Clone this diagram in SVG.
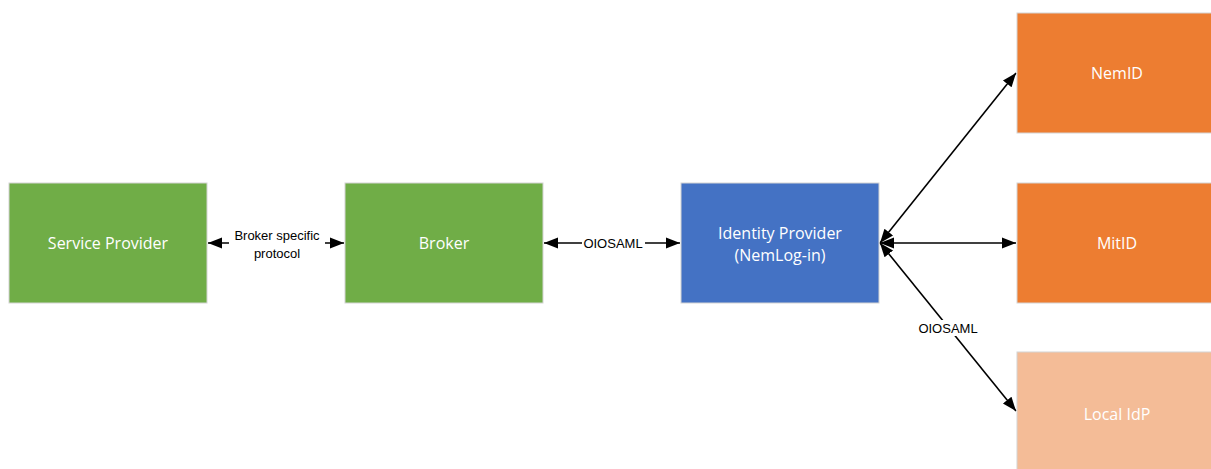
<svg xmlns="http://www.w3.org/2000/svg" width="1211" height="469" viewBox="0 0 1211 469">
<style>
.box{stroke:#d4d4d4;stroke-width:1}
.green{fill:#70ad47}
.blue{fill:#4472c4}
.orange{fill:#ed7d31}
.light{fill:#f4bc97}
.lbl{font-family:"Open Sans","Liberation Sans",sans-serif;font-size:16px;fill:#ffffff;text-anchor:middle;dominant-baseline:central}
.conn{stroke:#000;stroke-width:1.6;fill:none;marker-start:url(#ah);marker-end:url(#ah)}
.clbl{font-family:"Liberation Sans",sans-serif;font-size:13px;fill:#000;text-anchor:middle;dominant-baseline:central}
</style>
<defs>
<marker id="ah" markerUnits="userSpaceOnUse" markerWidth="15" markerHeight="14" refX="14" refY="7" orient="auto-start-reverse">
<path d="M0,1.5 L14,7 L0,12.5 z" fill="#000"/>
</marker>
</defs>
<rect width="1211" height="469" fill="#ffffff"/>
<g id="connectors">
<line class="conn" x1="208" y1="243" x2="344" y2="243"/>
<rect x="229" y="226" width="96" height="36" fill="#fff"/>
<text class="clbl" x="277" y="235">Broker specific</text>
<text class="clbl" x="277" y="253">protocol</text>
<line class="conn" x1="544" y1="243" x2="680" y2="243"/>
<rect x="582" y="235" width="63" height="16" fill="#fff"/>
<text class="clbl" x="613" y="243">OIOSAML</text>
<line class="conn" x1="880" y1="243" x2="1016" y2="73"/>
<line class="conn" x1="880" y1="243" x2="1016" y2="243"/>
<line class="conn" x1="880" y1="243" x2="1016" y2="411"/>
<rect x="917" y="320" width="63" height="16" fill="#fff"/>
<text class="clbl" x="948" y="328">OIOSAML</text>
</g>
<g id="service-provider">
<rect class="box green" x="9" y="183" width="198" height="120"/>
<text class="lbl" x="108" y="243">Service Provider</text>
</g>
<g id="broker">
<rect class="box green" x="345" y="183" width="198" height="120"/>
<text class="lbl" x="444" y="243">Broker</text>
</g>
<g id="identity-provider">
<rect class="box blue" x="681" y="183" width="198" height="120"/>
<text class="lbl" x="780" y="233">Identity Provider</text>
<text class="lbl" x="780" y="255">(NemLog-in)</text>
</g>
<g id="nemid">
<rect class="box orange" x="1017" y="13" width="200" height="120"/>
<text class="lbl" x="1117" y="73">NemID</text>
</g>
<g id="mitid">
<rect class="box orange" x="1017" y="183" width="200" height="120"/>
<text class="lbl" x="1117" y="243">MitID</text>
</g>
<g id="local-idp">
<rect class="box light" x="1017" y="352" width="200" height="130"/>
<text class="lbl" x="1117" y="414">Local IdP</text>
</g>
</svg>
